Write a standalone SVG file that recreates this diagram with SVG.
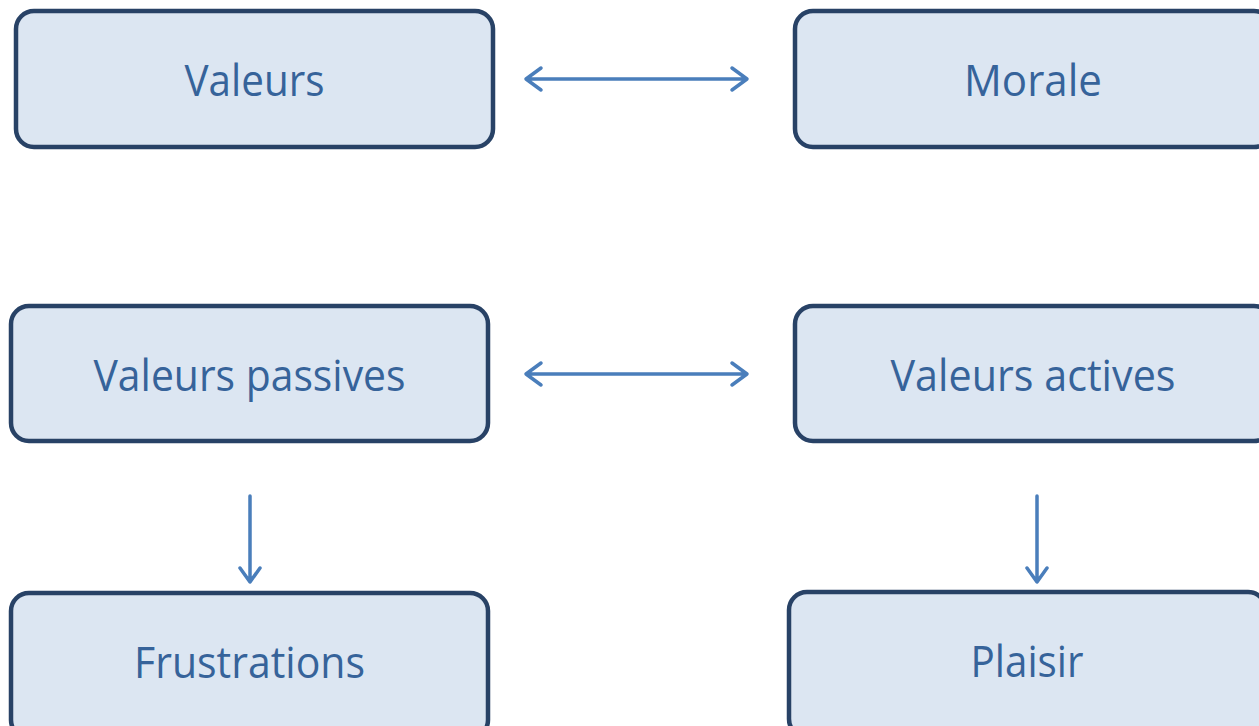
<svg xmlns="http://www.w3.org/2000/svg" width="1259" height="726" viewBox="0 0 1259 726">
<style>
.box{fill:#dce6f2;stroke:#284266;stroke-width:4.5}
.lbl{font-family:"Open Sans","Liberation Sans",sans-serif;font-size:44px;fill:#36639a;text-anchor:middle}
.con{stroke:#4a7ebb;stroke-width:3.5;fill:none;stroke-linecap:round;stroke-linejoin:round}
</style>
<rect width="1259" height="726" fill="#ffffff"/>
<g id="n-valeurs"><rect class="box" x="16" y="11" width="477" height="136" rx="18"/><text class="lbl" x="254.5" y="96" textLength="140" lengthAdjust="spacingAndGlyphs">Valeurs</text></g>
<g id="n-morale"><rect class="box" x="795" y="11" width="477" height="136" rx="18"/><text class="lbl" x="1033" y="96" textLength="138" lengthAdjust="spacingAndGlyphs">Morale</text></g>
<g id="n-passives"><rect class="box" x="11" y="306" width="477" height="135" rx="18"/><text class="lbl" x="249.5" y="391" textLength="312" lengthAdjust="spacingAndGlyphs">Valeurs passives</text></g>
<g id="n-actives"><rect class="box" x="795" y="306" width="477" height="135" rx="18"/><text class="lbl" x="1033" y="391" textLength="285" lengthAdjust="spacingAndGlyphs">Valeurs actives</text></g>
<g id="n-frustrations"><rect class="box" x="11" y="593" width="477" height="145" rx="18"/><text class="lbl" x="249.5" y="678" textLength="231" lengthAdjust="spacingAndGlyphs">Frustrations</text></g>
<g id="n-plaisir"><rect class="box" x="789" y="592" width="477" height="145" rx="18"/><text class="lbl" x="1027" y="677" textLength="113" lengthAdjust="spacingAndGlyphs">Plaisir</text></g>
<g id="connectors">
<path class="con" d="M526 79H747M541 68L526 79L541 90M732 68L747 79L732 90"/>
<path class="con" d="M526 374H747M541 363L526 374L541 385M732 363L747 374L732 385"/>
<path class="con" d="M250 496V582M240 568L250 582L260 568"/>
<path class="con" d="M1037 496V582M1027 568L1037 582L1047 568"/>
</g>
</svg>
